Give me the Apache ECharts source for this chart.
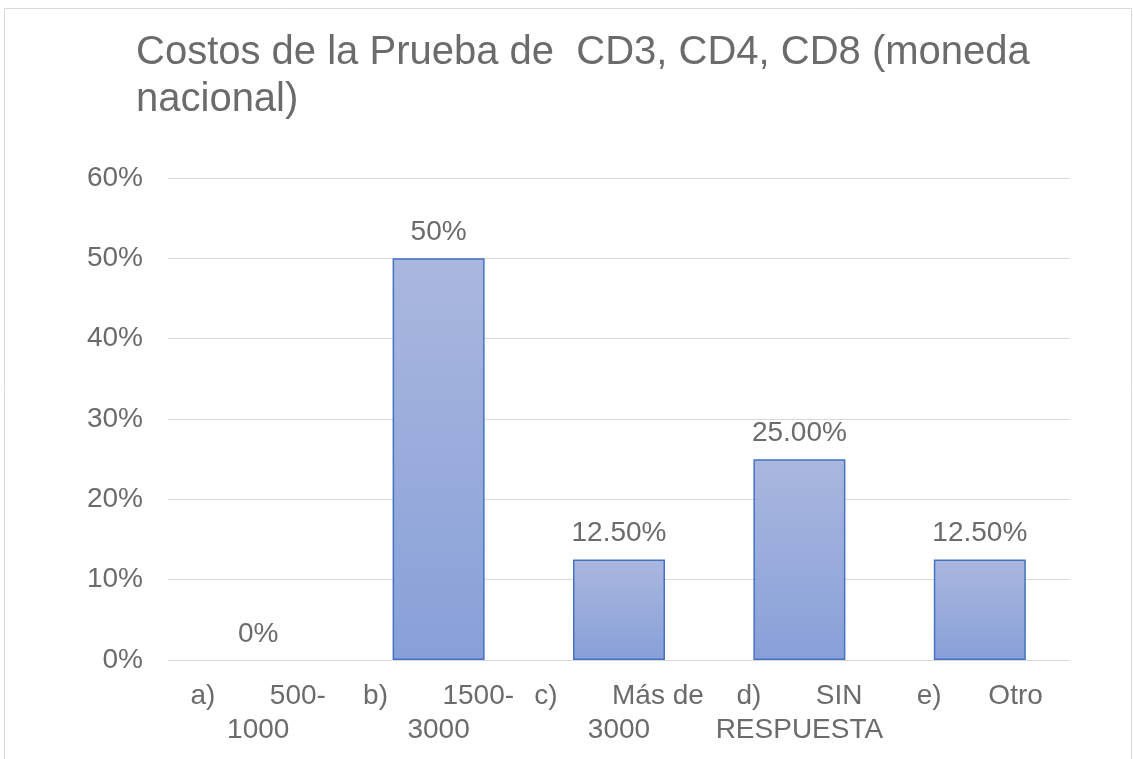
<!DOCTYPE html>
<html>
<head>
<meta charset="utf-8">
<script src="https://cdn.jsdelivr.net/npm/echarts@6/dist/echarts.min.js"></script>
<style>
html,body{margin:0;padding:0;background:#fff;}
#c{width:1133px;height:759px;}
</style>
</head>
<body>
<div id="c"></div>
<script>
const titleText = 'Costos de la Prueba de  CD3, CD4, CD8 (moneda\nnacional)';
const categories = ['a)       500-\n1000', 'b)       1500-\n3000', 'c)       Más de\n3000', 'd)       SIN\nRESPUESTA', 'e)      Otro'];
const values = [0, 0.5, 0.125, 0.25, 0.125];
const valueLabels = ['0%', '50%', '12.50%', '25.00%', '12.50%'];
const yTicks = [0, 0.1, 0.2, 0.3, 0.4, 0.5, 0.6];

const chart = echarts.init(document.getElementById('c'), null, {renderer: 'canvas'});
const font = 'Liberation Sans, Arial, sans-serif';
const textColor = '#6b6b6b';
chart.setOption({
  animation: false,
  backgroundColor: '#ffffff',
  textStyle: {fontFamily: font},
  graphic: [{
    type: 'rect', silent: true,
    shape: {x: 4.5, y: 8.5, width: 1127, height: 800},
    style: {fill: 'none', stroke: '#d9d9d9', lineWidth: 1}
  }],
  title: {
    text: titleText,
    left: 131, top: 24,
    textStyle: {fontFamily: font, fontSize: 40, fontWeight: 'normal', color: textColor, lineHeight: 47}
  },
  grid: {left: 168, right: 63, top: 178, bottom: 99, containLabel: false},
  xAxis: {
    type: 'category',
    data: categories,
    axisLine: {show: true, lineStyle: {color: '#d9d9d9', width: 1}},
    axisTick: {show: false},
    axisLabel: {interval: 0, color: textColor, fontSize: 28, lineHeight: 34, margin: 19, fontFamily: font}
  },
  yAxis: {
    type: 'value',
    min: 0, max: 0.6, interval: 0.1,
    axisLine: {show: false},
    axisTick: {show: false},
    splitLine: {lineStyle: {color: '#d9d9d9', width: 1}},
    axisLabel: {
      color: textColor, fontSize: 28, margin: 25, fontFamily: font,
      formatter: function (v) {
        const idx = yTicks.findIndex(t => Math.abs(t - v) < 1e-9);
        return Math.round((idx >= 0 ? yTicks[idx] : v) * 100) + '%';
      }
    }
  },
  series: [{
    type: 'bar',
    data: values.map(v => v === 0 ? {value: v, itemStyle: {borderWidth: 0}} : v),
    barWidth: '51%',
    itemStyle: {
      color: new echarts.graphic.LinearGradient(0, 0, 0, 1, [
        {offset: 0, color: '#aab7df'},
        {offset: 1, color: '#88a0d8'}
      ]),
      borderColor: '#4472c4',
      borderWidth: 1.5
    },
    label: {
      show: true, position: 'top', distance: 12,
      color: textColor, fontSize: 28, fontFamily: font,
      formatter: function (p) { return valueLabels[p.dataIndex]; }
    }
  }]
});
</script>
</body>
</html>
